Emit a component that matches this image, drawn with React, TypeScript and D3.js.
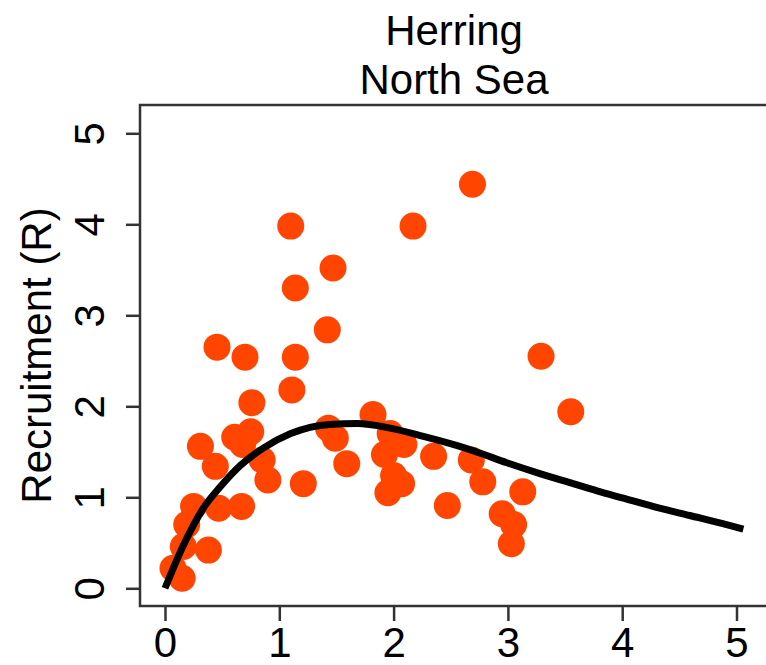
import React, { useEffect, useRef } from 'react'
import * as d3 from 'd3'

// spawning stock (S) and recruitment (R)
const spawners = [
  0.07, 0.15, 0.16, 0.38, 0.19, 0.25, 0.47, 0.67, 0.31, 0.44, 0.61, 0.68, 0.75, 0.85, 0.9, 0.76,
  0.455, 0.7, 1.14, 1.11, 1.21, 1.43, 1.49, 1.59, 1.42, 1.14, 1.47, 1.1, 2.17, 2.69, 1.82, 1.97,
  2.09, 1.92, 2.0, 2.07, 1.95, 2.35, 2.47, 2.68, 2.78, 3.13, 2.95, 3.05, 3.03, 3.29, 3.55,
]
const recruits = [
  0.22, 0.11, 0.46, 0.42, 0.7, 0.9, 0.88, 0.9, 1.56, 1.34, 1.66, 1.58, 1.72, 1.41, 1.19, 2.04,
  2.65, 2.54, 2.54, 2.18, 1.15, 1.76, 1.65, 1.37, 2.84, 3.3, 3.52, 3.98, 3.98, 4.44, 1.91, 1.7,
  1.58, 1.47, 1.24, 1.15, 1.05, 1.45, 0.91, 1.41, 1.17, 1.06, 0.82, 0.7, 0.49, 2.55, 1.94,
]

// fitted stock-recruitment curve
const fitS = [0, 0.16, 0.335, 0.48, 0.66, 0.86, 1.1, 1.44, 1.68, 1.97, 2.26, 2.55, 2.7, 2.99, 3.28, 3.57, 3.78, 4.01, 4.3, 4.59, 4.88, 5.06]
const fitR = [0, 0.47, 0.88, 1.11, 1.35, 1.54, 1.7, 1.8, 1.81, 1.76, 1.67, 1.57, 1.51, 1.38, 1.26, 1.15, 1.07, 0.99, 0.89, 0.8, 0.71, 0.65]

const xTicks = [0, 1, 2, 3, 4, 5]
const yTicks = [0, 1, 2, 3, 4, 5]
const titleLines = ['Herring', 'North Sea']
const yLabel = 'Recruitment (R)'

const W = 766
const H = 665
const FONT = "'Liberation Sans', Arial, sans-serif"

export default function App() {
  const svgRef = useRef<SVGSVGElement>(null)

  useEffect(() => {
    if (!svgRef.current) return
    const svg = d3.select(svgRef.current)
    svg.selectAll('*').remove()

    const box = { left: 140, top: 105, right: 775, bottom: 606 }
    const x = d3.scaleLinear().domain([0, 5]).range([165, 736.5])
    const y = d3.scaleLinear().domain([0, 5]).range([588.3, 133.3])

    svg.append('rect').attr('width', W).attr('height', H).attr('fill', '#fff')

    // points
    svg
      .append('g')
      .selectAll('circle')
      .data(spawners.map((s, i) => [s, recruits[i]]))
      .join('circle')
      .attr('cx', (d) => x(d[0]))
      .attr('cy', (d) => y(d[1]))
      .attr('r', 13.5)
      .attr('fill', '#FF4500')

    // fitted curve
    const line = d3
      .line<number>()
      .x((d, i) => x(fitS[i]))
      .y((d) => y(d))
      .curve(d3.curveMonotoneX)
    svg
      .append('path')
      .attr('d', line(fitR))
      .attr('fill', 'none')
      .attr('stroke', '#000')
      .attr('stroke-width', 7)
      .attr('stroke-linejoin', 'round')

    // plot box (right edge runs off the image)
    svg
      .append('rect')
      .attr('x', box.left)
      .attr('y', box.top)
      .attr('width', box.right - box.left)
      .attr('height', box.bottom - box.top)
      .attr('fill', 'none')
      .attr('stroke', '#333')
      .attr('stroke-width', 2.5)

    // x axis
    const xAxis = svg
      .append('g')
      .attr('transform', `translate(0,${box.bottom})`)
      .call(d3.axisBottom(x).tickValues(xTicks).tickSize(15).tickFormat(d3.format('d')))
    xAxis.select('.domain').remove()
    xAxis.selectAll('line').attr('stroke', '#333').attr('stroke-width', 2.5)
    xAxis
      .selectAll('text')
      .attr('font-family', FONT)
      .attr('font-size', 42)
      .attr('fill', '#000')
      .attr('dy', null)
      .attr('y', 51)

    // y axis with rotated labels
    const yAxis = svg
      .append('g')
      .attr('transform', `translate(${box.left},0)`)
      .call(d3.axisLeft(y).tickValues(yTicks).tickSize(14).tickFormat(d3.format('d')))
    yAxis.select('.domain').remove()
    yAxis.selectAll('line').attr('stroke', '#333').attr('stroke-width', 2.5)
    yAxis
      .selectAll('text')
      .attr('font-family', FONT)
      .attr('font-size', 42)
      .attr('fill', '#000')
      .attr('x', null)
      .attr('dy', null)
      .attr('text-anchor', 'middle')
      .attr('transform', 'translate(-36,0) rotate(-90)')

    // y label
    svg
      .append('text')
      .attr('transform', `translate(51,${(box.top + box.bottom) / 2}) rotate(-90)`)
      .attr('text-anchor', 'middle')
      .attr('font-family', FONT)
      .attr('font-size', 42)
      .text(yLabel)

    // title
    svg
      .append('g')
      .selectAll('text')
      .data(titleLines)
      .join('text')
      .attr('x', 454)
      .attr('y', (d, i) => 45 + i * 49)
      .attr('text-anchor', 'middle')
      .attr('font-family', FONT)
      .attr('font-size', 42)
      .text((d) => d)
  }, [])

  return (
    <svg
      ref={svgRef}
      width={W}
      height={H}
      style={{ position: 'absolute', left: 0, top: 0, display: 'block' }}
    />
  )
}
